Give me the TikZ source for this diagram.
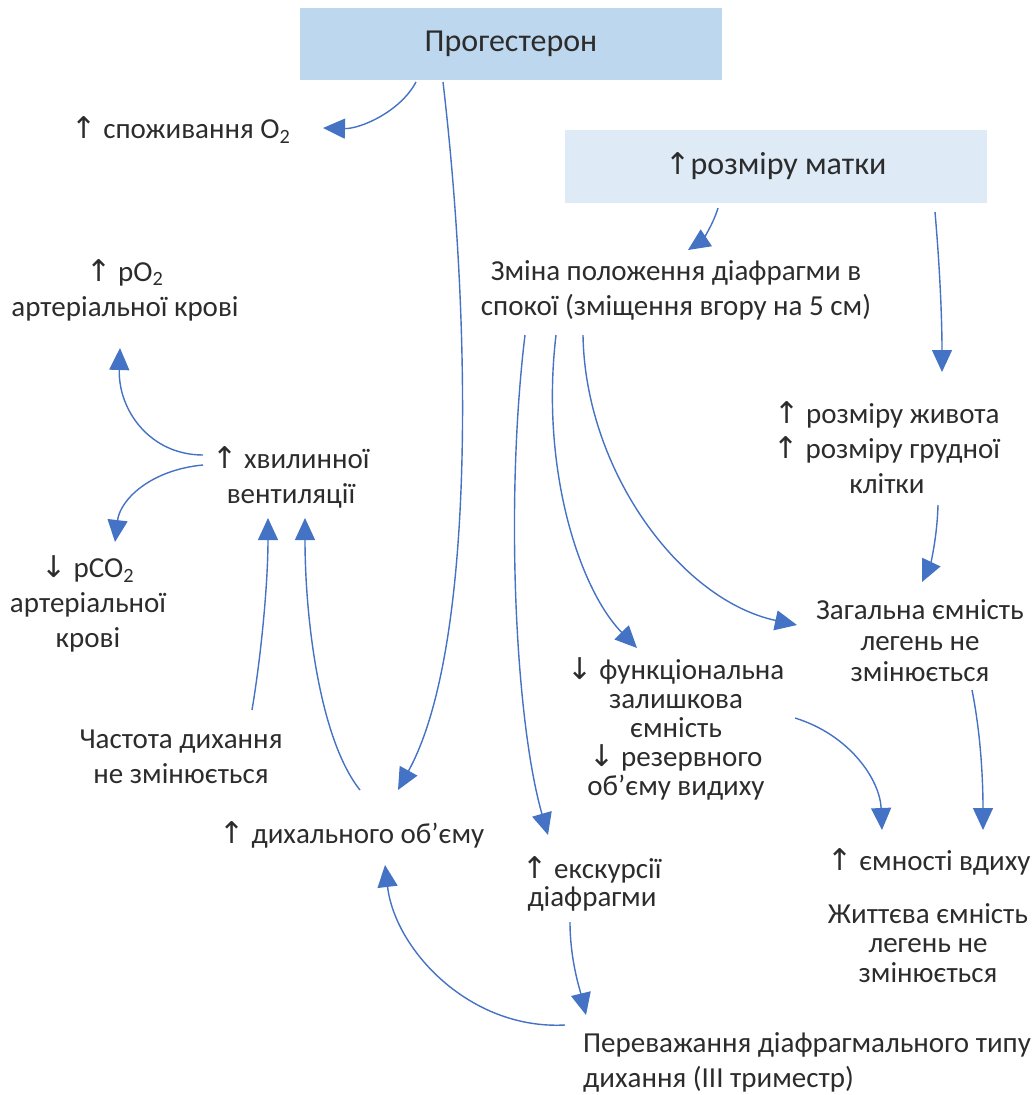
\documentclass[tikz,border=0pt]{standalone}
\usepackage{fontspec}
\setmainfont{Carlito}
\newfontfamily\arrfont{DejaVu Sans}
\usetikzlibrary{arrows.meta,calc}
\definecolor{progblue}{RGB}{189,215,238}
\definecolor{matkablue}{RGB}{222,235,247}
\definecolor{linkblue}{RGB}{68,114,196}
\definecolor{txt}{RGB}{44,44,44}
\newcommand{\up}{{\arrfont\fontsize{30}{30}\selectfont ↑}}
\newcommand{\dn}{{\arrfont\fontsize{30}{30}\selectfont ↓}}
\tikzset{
  lbl/.style={text=txt, align=center, inner sep=0pt, font=\fontsize{29}{35}\selectfont},
  boxnode/.style={text=txt, inner sep=0pt, minimum width=422pt, font=\fontsize{32}{36}\selectfont},
  link/.style={draw=linkblue, line width=1.4pt, -{Triangle[length=22pt,width=20pt]}}
}
\begin{document}
\begin{tikzpicture}[x=1pt,y=-1pt]
\useasboundingbox (0,0) rectangle (1032,1095);
% boxes
\node[boxnode, fill=progblue, minimum height=72pt] (prog) at (511,44) {Прогестерон};
\node[boxnode, fill=matkablue, minimum height=73pt] (matka) at (776,166.5) {\up розміру матки};
% text nodes
\node[lbl] (spozh) at (181,130) {\up\ споживання O\textsubscript{2}};
\node[lbl] (po2) at (125,290) {\up\ pO\textsubscript{2}\\артеріальної крові};
\node[lbl] (khv) at (291,477) {\up\ хвилинної\\вентиляції};
\node[lbl] (pco2) at (88,604) {\dn\ pCO\textsubscript{2}\\артеріальної\\крові};
\node[lbl] (chast) at (181,757) {Частота дихання\\не змінюється};
\node[lbl] (dykh) at (352,835) {\up\ дихального об’єму};
\node[lbl] (zmina) at (676,290) {Зміна положення діафрагми в\\спокої (зміщення вгору на 5 см)};
\node[lbl] (zhyv) at (887,448) {\up\ розміру живота\\\up\ розміру грудної\\клітки};
\node[lbl, font=\fontsize{29}{31}\selectfont] (zah) at (920,641) {Загальна ємність\\легень не\\змінюється};
\node[lbl, font=\fontsize{29}{29}\selectfont] (funk) at (676,729) {\dn\ функціональна\\залишкова\\ємність\\\dn\ резервного\\об’єму видиху};
\node[lbl, font=\fontsize{29}{28}\selectfont] (eksk) at (592,884) {\up\ екскурсії\\діафрагми};
\node[lbl] (yemn) at (929,862) {\up\ ємності вдиху};
\node[lbl, font=\fontsize{29}{29.5}\selectfont] (zhyt) at (928,943) {Життєва ємність\\легень не\\змінюється};
\node[lbl, align=left, anchor=west] (perev) at (583,1062) {Переважання діафрагмального типу\\дихання (III триместр)};
% connectors
\draw[link] ($(prog)+(-95,38)$) .. controls (400,112) and (360,129) .. ($(spozh)+(142,-2)$);
\draw[link] ($(prog)+(-68,38)$) .. controls (472,330) and (475,650) .. ($(dykh)+(46,-45)$);
\draw[link] ($(matka)+(-58,41.5)$) .. controls (712,228) and (700,242) .. ($(zmina)+(12,-40)$);
\draw[link] ($(matka)+(159,45.5)$) .. controls (940,270) and (942,320) .. ($(zhyv)+(55,-76)$);
\draw[link] ($(zhyv)+(51,57)$) .. controls (937,540) and (930,565) .. ($(zah)+(2,-59)$);
\draw[link] ($(zmina)+(-93,45)$) .. controls (585,470) and (680,600) .. ($(zah)+(-123,-16)$);
\draw[link] ($(zmina)+(-120,45)$) .. controls (540,470) and (580,590) .. ($(funk)+(-39,-81)$);
\draw[link] ($(zmina)+(-151,45)$) .. controls (505,500) and (515,720) .. ($(eksk)+(-44,-49)$);
\draw[link] ($(eksk)+(-22,38)$) .. controls (570,960) and (580,990) .. ($(perev.west)+(3,-47)$);
\draw[link] ($(perev.west)+(-18,-37)$) .. controls (470,1030) and (395,950) .. ($(dykh)+(33,30)$);
\draw[link] ($(funk)+(119,-11)$) .. controls (850,735) and (880,780) .. ($(yemn)+(-47,-32)$);
\draw[link] ($(zah)+(52,49)$) .. controls (982,740) and (983,790) .. ($(yemn)+(54,-32)$);
\draw[link] ($(khv)+(-88,-22)$) .. controls (150,455) and (118,410) .. ($(po2)+(-5,58)$);
\draw[link] ($(khv)+(-88,-12)$) .. controls (150,470) and (120,500) .. ($(pco2)+(27,-62)$);
\draw[link] ($(chast)+(71,-47)$) .. controls (262,650) and (268,580) .. ($(khv)+(-23,41)$);
\draw[link] ($(dykh)+(8,-45)$) .. controls (320,740) and (305,620) .. ($(khv)+(14,41)$);
\end{tikzpicture}
\end{document}
